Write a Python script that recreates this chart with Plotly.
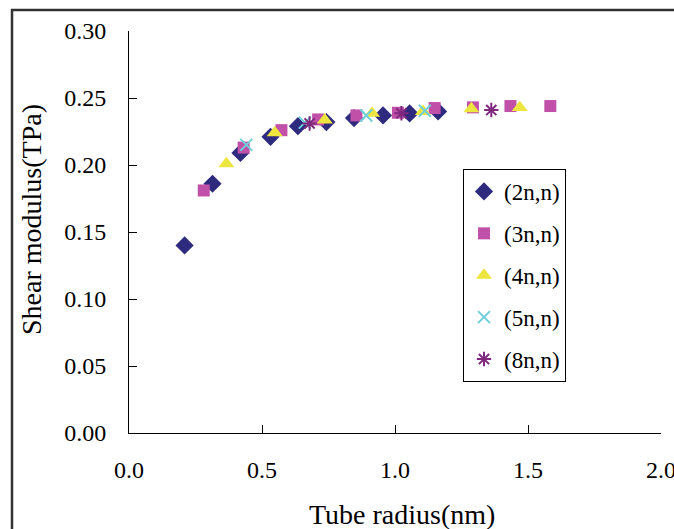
import plotly.graph_objects as go

# (2n,n)
r_2n = [0.209, 0.314, 0.419, 0.532, 0.635, 0.742, 0.846, 0.955, 1.055, 1.162]
g_2n = [0.140, 0.186, 0.209, 0.221, 0.229, 0.232, 0.235, 0.237, 0.2385, 0.240]
# (3n,n)
r_3n = [0.281, 0.431, 0.573, 0.711, 0.855, 1.011, 1.149, 1.293, 1.434, 1.584]
g_3n = [0.181, 0.213, 0.226, 0.234, 0.237, 0.239, 0.2425, 0.243, 0.244, 0.244]
# (4n,n)
r_4n = [0.366, 0.548, 0.736, 0.914, 1.105, 1.287, 1.469]
g_4n = [0.201, 0.224, 0.2336, 0.2386, 0.240, 0.242, 0.243]
# (5n,n)
r_5n = [0.441, 0.661, 0.892, 1.112]
g_5n = [0.215, 0.2316, 0.237, 0.2405]
# (8n,n)
r_8n = [0.679, 1.024, 1.362]
g_8n = [0.231, 0.2386, 0.241]

x_ticks = [0.0, 0.5, 1.0, 1.5, 2.0]
y_ticks = [0.00, 0.05, 0.10, 0.15, 0.20, 0.25, 0.30]
x_title = "Tube radius(nm)"
y_title = "Shear modulus(TPa)"

FONT = "Liberation Serif"
W, H = 674, 529
L, R, T, B = 129, 13, 31, 96

fig = go.Figure()
fig.add_trace(go.Scatter(x=r_2n, y=g_2n, mode="markers", name="(2n,n)", legendgroup="a",
                         marker=dict(symbol="diamond", size=14, color="#2E2A7E")))
fig.add_trace(go.Scatter(x=r_3n, y=g_3n, mode="markers", name="(3n,n)", legendgroup="b",
                         marker=dict(symbol="square", size=12, color="#C050A8")))
fig.add_trace(go.Scatter(x=r_4n, y=g_4n, mode="markers", name="(4n,n)", legendgroup="c",
                         marker=dict(symbol="triangle-up", size=14, color="#EEE640")))
fig.add_trace(go.Scatter(x=r_5n, y=g_5n, mode="markers", name="(5n,n)", legendgroup="d",
                         marker=dict(symbol="x-thin", size=12, color="#70D0DA",
                                     line=dict(color="#70D0DA", width=2))))
fig.add_trace(go.Scatter(x=r_8n, y=g_8n, mode="markers", name="(8n,n)", legendgroup="e",
                         marker=dict(symbol="asterisk", size=12, color="#80287E",
                                     line=dict(color="#80287E", width=2))))

pw = W - L - R
ph = H - T - B


def px_x(p):
    return (p - L) / pw


def px_y(p):
    return (H - B - p) / ph


# outer frame (left and top edges visible in the reference)
fig.add_shape(type="rect", xref="paper", yref="paper",
              x0=px_x(12), x1=px_x(W + 10), y0=px_y(H + 10), y1=px_y(10),
              line=dict(color="#333333", width=2.5), fillcolor="rgba(0,0,0,0)", layer="below")

fig.add_annotation(text=x_title, xref="paper", yref="paper", x=px_x(402), y=px_y(514),
                   xanchor="center", yanchor="middle", showarrow=False,
                   font=dict(family=FONT, size=28, color="black"))
fig.add_annotation(text=y_title, xref="paper", yref="paper", x=px_x(31), y=px_y(220),
                   xanchor="center", yanchor="middle", showarrow=False, textangle=-90,
                   font=dict(family=FONT, size=28, color="black"))

fig.update_layout(
    width=W, height=H,
    margin=dict(l=L, r=R, t=T, b=B, pad=0, autoexpand=False),
    paper_bgcolor="white", plot_bgcolor="white",
    font=dict(family=FONT, size=24, color="black"),
    showlegend=True,
    legend=dict(x=px_x(463), y=px_y(169), xanchor="left", yanchor="top",
                bgcolor="white", bordercolor="black", borderwidth=1,
                font=dict(family=FONT, size=23, color="black"),
                tracegroupgap=9, itemwidth=30),
    xaxis=dict(range=[0, 2.0], tickvals=x_ticks, ticktext=[f"{v:.1f}" for v in x_ticks],
               showgrid=False, zeroline=False, showline=True, linecolor="black", linewidth=1,
               ticks="inside", ticklen=8, tickcolor="black", ticklabeloverflow="allow",
               automargin=False,
               tickfont=dict(family=FONT, size=24), ticklabelstandoff=15),
    yaxis=dict(range=[0, 0.30], tickvals=y_ticks, ticktext=[f"{v:.2f}" for v in y_ticks],
               showgrid=False, zeroline=False, showline=True, linecolor="black", linewidth=1,
               ticks="inside", ticklen=8, tickcolor="black", ticklabeloverflow="allow",
               automargin=False,
               tickfont=dict(family=FONT, size=24), ticklabelstandoff=17),
)

fig.write_html("out.html", config={"displayModeBar": False},
               post_script="document.body.style.margin='0';document.body.style.padding='0';")
